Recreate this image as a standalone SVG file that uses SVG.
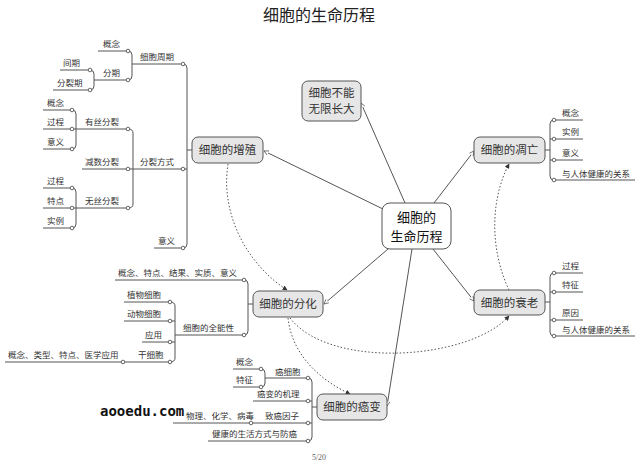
<svg xmlns="http://www.w3.org/2000/svg" width="640" height="463" viewBox="0 0 640 463">
<defs>
<style>
text{font-family:"Noto Sans CJK SC","Noto Sans",sans-serif;fill:#333}
.t{font-size:16px;fill:#222}
.lb{font-size:8.5px}
.nd{font-size:11.5px;fill:#333}
.ce{font-size:13px;fill:#111}
.box{fill:#e6e6e6;stroke:#555;stroke-width:1}
.cbox{fill:#fff;stroke:#555;stroke-width:1}
.ln{fill:none;stroke:#555;stroke-width:1}
.dot{fill:none;stroke:#555;stroke-width:1;stroke-dasharray:1.5 2}
.mk{fill:#fff;stroke:#555;stroke-width:0.9}
.wm{font-family:"DejaVu Sans Mono",monospace;font-size:14px;font-weight:bold;fill:#111}
.pg{font-family:"Liberation Serif",serif;font-size:8px;fill:#666}
</style>
<marker id="oa" viewBox="0 0 8 8" refX="7" refY="4" markerWidth="6" markerHeight="6" orient="auto">
<path d="M1,1 L7,4 L1,7" fill="#fff" stroke="#555" stroke-width="1"/>
</marker>
<marker id="fa" viewBox="0 0 8 8" refX="7" refY="4" markerWidth="5" markerHeight="5" orient="auto">
<path d="M0,0 L8,4 L0,8 z" fill="#333"/>
</marker>
</defs>
<rect width="640" height="463" fill="#fff"/>
<text class="t" x="319" y="21" text-anchor="middle">细胞的生命历程</text>

<g id="connectors">
<line class="ln" x1="405" y1="203" x2="361" y2="103" marker-end="url(#oa)"/>
<line class="ln" x1="383" y1="209" x2="264" y2="151" marker-end="url(#oa)"/>
<line class="ln" x1="434" y1="203" x2="474" y2="151" marker-end="url(#oa)"/>
<line class="ln" x1="433" y1="249" x2="474" y2="301" marker-end="url(#oa)"/>
<line class="ln" x1="388" y1="249" x2="324" y2="304" marker-end="url(#oa)"/>
<line class="ln" x1="412" y1="249" x2="387" y2="406" marker-end="url(#oa)"/>
<path class="dot" d="M228,164 C220,215 248,265 287,290" marker-end="url(#fa)"/>
<path class="dot" d="M509,290 C490,250 490,200 509,164" marker-end="url(#fa)"/>
<path class="dot" d="M288,318 C292,355 320,380 350,394" marker-end="url(#fa)"/>
<path class="dot" d="M290,318 C330,370 470,360 509,316" marker-end="url(#fa)"/>
</g>

<g id="node-center">
<rect class="cbox" x="382" y="203" width="69" height="46" rx="8"/>
<text class="ce" x="416.5" y="222" text-anchor="middle">细胞的</text>
<text class="ce" x="416.5" y="241" text-anchor="middle">生命历程</text>
</g>
<g id="node-grow">
<rect class="box" x="302" y="81" width="59" height="40" rx="6"/>
<text class="nd" x="331.5" y="97" text-anchor="middle">细胞不能</text>
<text class="nd" x="331.5" y="113" text-anchor="middle">无限长大</text>
</g>
<g id="node-prolif">
<rect class="box" x="192" y="137" width="71" height="26" rx="6"/>
<text class="nd" x="227.5" y="154" text-anchor="middle">细胞的增殖</text>
</g>
<g id="node-apop">
<rect class="box" x="474" y="137" width="71" height="26" rx="6"/>
<text class="nd" x="509.5" y="154" text-anchor="middle">细胞的凋亡</text>
</g>
<g id="node-aging">
<rect class="box" x="474" y="290" width="71" height="25" rx="6"/>
<text class="nd" x="509.5" y="306.5" text-anchor="middle">细胞的衰老</text>
</g>
<g id="node-diff">
<rect class="box" x="253" y="291" width="70" height="26" rx="6"/>
<text class="nd" x="288" y="308" text-anchor="middle">细胞的分化</text>
</g>
<g id="node-cancer">
<rect class="box" x="317" y="394" width="70" height="26" rx="6"/>
<text class="nd" x="352" y="411" text-anchor="middle">细胞的癌变</text>
</g>

<g id="tree-prolif">
<path class="ln" d="M192,150 H187 M183,64 Q187,64 187,68 V244 Q187,248 183,248"/>
<path class="ln" d="M132,64 H183 M133,169 H187 M154,248 H183"/>
<path class="ln" d="M128,51 Q132,51 132,55 V76 Q132,80 128,80 M98,51 H128 M94,80 H128"/>
<path class="ln" d="M90,70 Q94,70 94,74 V86 Q94,90 90,90 M60,70 H90 M53,90 H90"/>
<path class="ln" d="M128,129 Q133,129 133,133 V204 Q133,208 128,208 M76,129 H128 M82,169 H133 M76,208 H128"/>
<path class="ln" d="M72,110 Q76,110 76,114 V145 Q76,149 72,149 M43,110 H72 M43,129 H76 M43,149 H72"/>
<path class="ln" d="M72,188 Q76,188 76,192 V224 Q76,228 72,228 M43,188 H72 M43,208 H76 M43,228 H72"/>
<g class="mk">
<circle cx="183" cy="64" r="1.8"/><circle cx="183" cy="169" r="1.8"/><circle cx="183" cy="248" r="1.8"/>
<circle cx="128" cy="51" r="1.8"/><circle cx="128" cy="80" r="1.8"/>
<circle cx="90" cy="70" r="1.8"/><circle cx="90" cy="90" r="1.8"/>
<circle cx="128" cy="129" r="1.8"/><circle cx="128" cy="169" r="1.8"/><circle cx="128" cy="208" r="1.8"/>
<circle cx="72" cy="110" r="1.8"/><circle cx="72" cy="129" r="1.8"/><circle cx="72" cy="149" r="1.8"/>
<circle cx="72" cy="188" r="1.8"/><circle cx="72" cy="208" r="1.8"/><circle cx="72" cy="228" r="1.8"/>
</g>
<text class="lb" x="140" y="60">细胞周期</text>
<text class="lb" x="140" y="165">分裂方式</text>
<text class="lb" x="158" y="244">意义</text>
<text class="lb" x="103" y="47">概念</text>
<text class="lb" x="103" y="76">分期</text>
<text class="lb" x="63" y="66">间期</text>
<text class="lb" x="57" y="86">分裂期</text>
<text class="lb" x="85" y="125">有丝分裂</text>
<text class="lb" x="85" y="165">减数分裂</text>
<text class="lb" x="85" y="204">无丝分裂</text>
<text class="lb" x="47" y="106">概念</text>
<text class="lb" x="47" y="125">过程</text>
<text class="lb" x="47" y="145">意义</text>
<text class="lb" x="47" y="184">过程</text>
<text class="lb" x="47" y="204">特点</text>
<text class="lb" x="47" y="224">实例</text>
</g>

<g id="tree-apop">
<path class="ln" d="M545,150 H550 M554,120 Q550,120 550,124 V176 Q550,180 554,180 M554,120 H583 M550,139 H583 M550,160 H583 M554,180 H635"/>
<g class="mk">
<circle cx="554" cy="120" r="1.8"/><circle cx="554" cy="139" r="1.8"/><circle cx="554" cy="160" r="1.8"/><circle cx="554" cy="180" r="1.8"/>
</g>
<text class="lb" x="562" y="116">概念</text>
<text class="lb" x="562" y="135">实例</text>
<text class="lb" x="562" y="156">意义</text>
<text class="lb" x="562" y="177">与人体健康的关系</text>
</g>

<g id="tree-aging">
<path class="ln" d="M545,302 H550 M554,273 Q550,273 550,277 V332 Q550,336 554,336 M554,273 H583 M550,292 H583 M550,320 H583 M554,336 H635"/>
<g class="mk">
<circle cx="554" cy="273" r="1.8"/><circle cx="554" cy="292" r="1.8"/><circle cx="554" cy="320" r="1.8"/><circle cx="554" cy="336" r="1.8"/>
</g>
<text class="lb" x="562" y="269">过程</text>
<text class="lb" x="562" y="288">特征</text>
<text class="lb" x="562" y="316">原因</text>
<text class="lb" x="562" y="333">与人体健康的关系</text>
</g>

<g id="tree-diff">
<path class="ln" d="M253,304 H248 M244,280 Q248,280 248,284 V331 Q248,335 244,335 M115,280 H244 M175,335 H244"/>
<path class="ln" d="M170,302 Q175,302 175,306 V358 Q175,362 170,362 M124,302 H170 M124,321 H175 M142,342 H175 M5,362 H170"/>
<g class="mk">
<circle cx="244" cy="280" r="1.8"/><circle cx="244" cy="335" r="1.8"/>
<circle cx="170" cy="302" r="1.8"/><circle cx="170" cy="321" r="1.8"/><circle cx="170" cy="342" r="1.8"/><circle cx="170" cy="362" r="1.8"/><circle cx="123" cy="362" r="1.8"/>
</g>
<text class="lb" x="118" y="276">概念、特点、结果、实质、意义</text>
<text class="lb" x="183" y="331">细胞的全能性</text>
<text class="lb" x="127" y="298">植物细胞</text>
<text class="lb" x="127" y="317">动物细胞</text>
<text class="lb" x="145" y="338">应用</text>
<text class="lb" x="138" y="358">干细胞</text>
<text class="lb" x="8" y="358">概念、类型、特点、医学应用</text>
</g>

<g id="tree-cancer">
<path class="ln" d="M317,407 H312 M308,378 Q312,378 312,382 V437 Q312,441 308,441 M265,378 H308 M253,401 H312 M173,423 H312 M208,441 H308"/>
<path class="ln" d="M261,369 Q265,369 265,373 V383 Q265,387 261,387 M233,369 H261 M233,387 H261"/>
<g class="mk">
<circle cx="308" cy="378" r="1.8"/><circle cx="308" cy="401" r="1.8"/><circle cx="308" cy="423" r="1.8"/><circle cx="308" cy="441" r="1.8"/><circle cx="251" cy="423" r="1.8"/>
<circle cx="261" cy="369" r="1.8"/><circle cx="261" cy="387" r="1.8"/>
</g>
<text class="lb" x="275" y="375">癌细胞</text>
<text class="lb" x="236" y="365">概念</text>
<text class="lb" x="236" y="383">特征</text>
<text class="lb" x="257" y="397">癌变的机理</text>
<text class="lb" x="265" y="419">致癌因子</text>
<text class="lb" x="186" y="419">物理、化学、病毒</text>
<text class="lb" x="212" y="437">健康的生活方式与防癌</text>
</g>

<text class="wm" x="100" y="416">aooedu.com</text>
<text class="pg" x="319" y="460" text-anchor="middle">5/20</text>
</svg>
